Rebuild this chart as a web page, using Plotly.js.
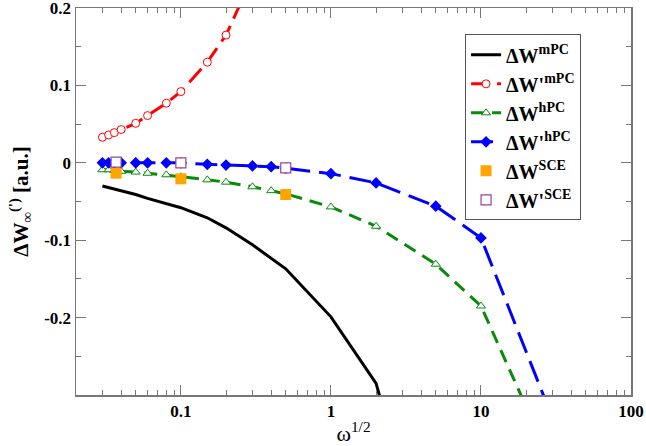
<!DOCTYPE html>
<html>
<head>
<meta charset="utf-8">
<script src="https://cdn.plot.ly/plotly-3.0.1.min.js"></script>
<style>html,body{margin:0;padding:0;background:#fff;}#chart{width:646px;height:446px;}</style>
</head>
<body>
<div id="chart"></div>
<script>
// ΔW^mPC (solid black)
const x_mPC = [0.03, 0.04, 0.05, 0.06, 0.08, 0.1, 0.15, 0.2, 0.3, 0.4, 0.5, 1, 2, 5];
const y_mPC = [-0.030, -0.036, -0.041, -0.046, -0.053, -0.058, -0.071, -0.084, -0.106, -0.123, -0.137, -0.199, -0.285, -0.56];
// ΔW'^mPC (red dashed, open circles)
const x_mPCp = [0.03, 0.033, 0.036, 0.04, 0.05, 0.06, 0.08, 0.1, 0.15, 0.2, 0.3];
const y_mPCp = [0.033, 0.036, 0.039, 0.043, 0.051, 0.061, 0.077, 0.092, 0.130, 0.165, 0.24];
// ΔW^hPC (green dashed, open triangles)
const x_hPC = [0.03, 0.033, 0.036, 0.04, 0.05, 0.06, 0.08, 0.1, 0.15, 0.2, 0.3, 0.4, 0.5, 1, 2, 5, 10, 20];
const y_hPC = [-0.009, -0.009, -0.010, -0.011, -0.012, -0.0135, -0.0155, -0.018, -0.022, -0.025, -0.031, -0.036, -0.040, -0.057, -0.082, -0.131, -0.185, -0.315];
// ΔW'^hPC (blue dashed, diamonds)
const x_hPCp = [0.03, 0.033, 0.036, 0.04, 0.05, 0.06, 0.08, 0.1, 0.15, 0.2, 0.3, 0.4, 0.5, 1, 2, 5, 10, 30];
const y_hPCp = [0, 0, 0, 0, 0, 0, 0, 0, -0.002, -0.003, -0.004, -0.005, -0.007, -0.014, -0.026, -0.056, -0.097, -0.33];
// ΔW^SCE (orange filled squares)
const x_SCE = [0.037, 0.1, 0.5];
const y_SCE = [-0.0134, -0.0207, -0.041];
// ΔW'^SCE (purple open squares)
const x_SCEp = [0.037, 0.1, 0.5];
const y_SCEp = [0.001, 0.0, -0.0065];

const xTickVals = [0.1, 1, 10, 100];
const xTickText = ["0.1", "1", "10", "100"];
const yTickVals = [-0.2, -0.1, 0, 0.1, 0.2];
const yTickText = ["-0.2", "-0.1", "0", "0.1", "0.2"];

const names = ["ΔW<sup>mPC</sup>", "ΔW'<sup>mPC</sup>", "ΔW<sup>hPC</sup>", "ΔW'<sup>hPC</sup>", "ΔW<sup>SCE</sup>", "ΔW'<sup>SCE</sup>"];

const xMinor = [];
[0.01, 0.1, 1, 10].forEach(d => { for (let k = 2; k <= 9; k++) { const v = d * k; if (v > 0.021) xMinor.push(v); } });
const yMinor = [-0.25, -0.15, -0.05, 0.05, 0.15];

const FONT = "Liberation Serif";
const axisCol = "#777";

const traces = [
  {x: x_mPC, y: y_mPC, name: names[0], mode: "lines", line: {color: "#000", width: 3}},
  {x: x_mPCp, y: y_mPCp, name: names[1], mode: "lines+markers",
   line: {color: "#ff0000", width: 3, dash: "18px,8px"},
   marker: {symbol: "circle", size: 8, color: "#fff", line: {width: 1, color: "#ff0000"}}},
  {x: x_hPC, y: y_hPC, name: names[2], mode: "lines+markers",
   line: {color: "#0a8a0a", width: 3, dash: "13px,8px"},
   marker: {symbol: "triangle-up", size: 8, color: "#fff", line: {width: 1, color: "#0a8a0a"}}},
  {x: x_hPCp, y: y_hPCp, name: names[3], mode: "lines+markers",
   line: {color: "#0000ff", width: 3, dash: "22px,9px"},
   marker: {symbol: "diamond", size: 9, color: "#0000ff"}},
  {x: x_SCE, y: y_SCE, name: names[4], mode: "markers",
   marker: {symbol: "square", size: 11, color: "#ffa500"}},
  {x: x_SCEp, y: y_SCEp, name: names[5], mode: "markers",
   marker: {symbol: "square", size: 10, color: "#fff", line: {width: 1.2, color: "#94469a"}}}
];

const layout = {
  width: 646, height: 446,
  margin: {l: 76, r: 15, t: 8, b: 51},
  paper_bgcolor: "#fff", plot_bgcolor: "#fff",
  font: {family: FONT, size: 17, color: "#000"},
  showlegend: true,
  legend: {x: 0.701, y: 0.932, xanchor: "left", yanchor: "top",
    bgcolor: "#fff", bordercolor: "#555", borderwidth: 1,
    font: {family: FONT, size: 20, weight: "bold", color: "#000"},
    tracegroupgap: 0, itemwidth: 30},
  xaxis: {
    type: "log", range: [Math.log10(0.02), 2],
    tickvals: xTickVals, ticktext: xTickText,
    ticks: "inside", ticklen: 10, tickwidth: 1, tickcolor: axisCol,
    showline: true, linecolor: axisCol, linewidth: 1.5, mirror: "ticks",
    showgrid: false, zeroline: false, ticklabeloverflow: "allow",
    tickfont: {family: FONT, size: 17, weight: "bold", color: "#000"},
    minor: {tickvals: xMinor, ticks: "inside", ticklen: 5, tickwidth: 1, tickcolor: axisCol, showgrid: false},
    title: {text: "ω<sup>1/2</sup>", font: {family: FONT, size: 22, color: "#000"}, standoff: 6}
  },
  yaxis: {
    range: [-0.3, 0.2],
    tickvals: yTickVals, ticktext: yTickText,
    ticks: "inside", ticklen: 10, tickwidth: 1, tickcolor: axisCol,
    showline: true, linecolor: axisCol, linewidth: 1.5, mirror: "ticks",
    showgrid: false, zeroline: false, ticklabeloverflow: "allow",
    tickfont: {family: FONT, size: 17, weight: "bold", color: "#000"},
    minor: {tickvals: yMinor, ticks: "inside", ticklen: 5, tickwidth: 1, tickcolor: axisCol, showgrid: false},
    title: {text: "ΔW<sub>∞</sub><sup>(')</sup> [a.u.]", font: {family: FONT, size: 21, weight: "bold", color: "#000"}, standoff: 10}
  }
};

Plotly.newPlot("chart", traces, layout, {displayModeBar: false, staticPlot: true});
</script>
</body>
</html>
